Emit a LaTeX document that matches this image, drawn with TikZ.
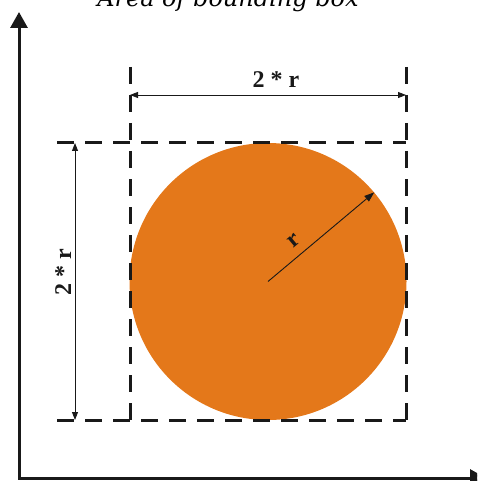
\documentclass[tikz,border=0pt]{standalone}
\usepackage{fontspec}
\setmainfont{Liberation Serif}
\newfontfamily\titlefont{DejaVu Serif}
\usetikzlibrary{arrows.meta}
\definecolor{discorange}{RGB}{228,120,26}
\definecolor{inkblack}{RGB}{25,25,25}
\tikzset{
  axisline/.style={line width=3pt, draw=inkblack, line join=miter,
    {Triangle[width=17pt,length=16pt]}-{Triangle[width=17pt,length=16pt]}},
  boxline/.style={line width=3pt, draw=inkblack, dash pattern=on 17pt off 11pt},
  dimline/.style={line width=0.9pt, draw=inkblack, {Triangle[width=6pt,length=8pt]}-{Triangle[width=6pt,length=8pt]}},
  radline/.style={line width=0.9pt, draw=inkblack, -{Triangle[width=7pt,length=10pt]}},
  dimlabel/.style={font=\fontsize{24}{27}\selectfont\bfseries, text=inkblack, inner sep=1pt},
  titlelabel/.style={font=\fontsize{24}{27}\selectfont\titlefont\itshape, text=black, anchor=base},
  disc/.style={circle, fill=discorange, minimum size=277pt, inner sep=0pt}
}
\begin{document}
\begin{tikzpicture}[x=1pt,y=-1pt]
\useasboundingbox (0,0) rectangle (477,481);
\clip (0,0) rectangle (477,481);
% title (partly cut at top, as in the original)
\node[titlelabel] (title) at (228,7) {Area of bounding box};
% circle
\node[disc] (c) at (268,281.5) {};
% axes
\coordinate (ytip) at (19,12);
\coordinate (corner) at (19,478);
\coordinate (xtip) at (486,478);
\draw[axisline] (ytip) -- (corner) -- (xtip);
% dashed box lines
\coordinate (vlt) at (130,67);
\coordinate (vlb) at (130,420);
\coordinate (vrt) at (406,67);
\coordinate (vrb) at (406,420);
\coordinate (htl) at (57,143);
\coordinate (htr) at (406,143);
\coordinate (hbl) at (57,420);
\coordinate (hbr) at (406,420);
\draw[boxline] (vlt) -- (vlb);
\draw[boxline] (vrt) -- (vrb);
\draw[boxline] (htl) -- (htr);
\draw[boxline] (hbl) -- (hbr);
% horizontal dimension
\coordinate (hdl) at (130,95);
\coordinate (hdr) at (406,95);
\draw[dimline] (hdl) -- (hdr);
\node[dimlabel, anchor=base] (hlab) at (276,88) {2 * r};
% vertical dimension
\coordinate (vdt) at (75,143);
\coordinate (vdb) at (75,420);
\draw[dimline] (vdt) -- (vdb);
\node[dimlabel, rotate=90, anchor=base] (vlab) at (71,272) {2 * r};
% radius
\draw[radline] (c.center) -- (c.40);
\node[dimlabel, rotate=40] (rlab) at (294,241) {r};
\end{tikzpicture}
\end{document}
